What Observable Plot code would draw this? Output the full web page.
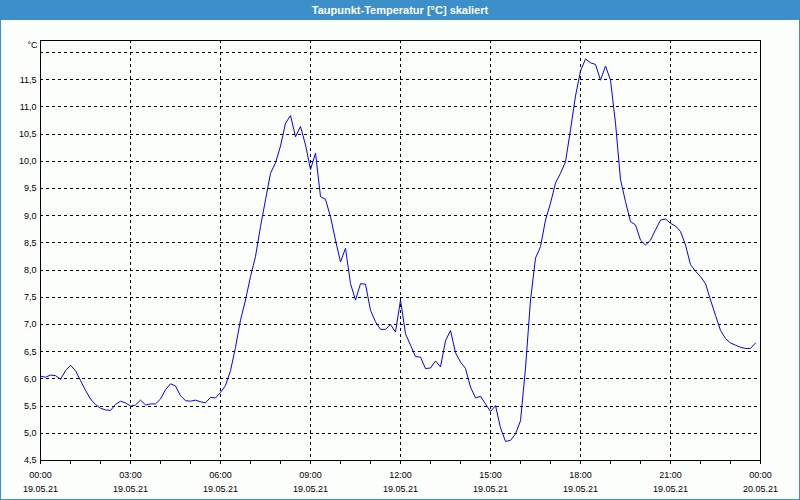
<!DOCTYPE html>
<html>
<head>
<meta charset="utf-8">
<script src="https://cdn.jsdelivr.net/npm/d3@7"></script>
<script src="https://cdn.jsdelivr.net/npm/@observablehq/plot@0.6"></script>
<style>
  html, body { margin: 0; padding: 0; background: #fcfefc; }
  #wrap { position: relative; width: 800px; height: 500px; box-sizing: border-box;
          border: 1px solid #3c8fc8; border-top: none; background: #fcfefc; overflow: hidden; }
  #title { height: 20px; background: #3c8fc8; color: #fff; text-align: center;
           font: bold 11px "Liberation Sans", Arial, sans-serif; line-height: 20px; margin: 0 -1px; }
  #chart svg { display: block; }
</style>
</head>
<body>
<div id="wrap">
  <div id="title">Taupunkt-Temperatur [°C] skaliert</div>
  <div id="chart"></div>
</div>
<script>
// Dew point values, one reading every 10 minutes from 19.05.21 00:00
const dewpoint = [
  6.05, 6.03, 6.07, 6.06, 5.99, 6.15, 6.25, 6.15, 5.97, 5.79,
  5.63, 5.53, 5.46, 5.43, 5.42, 5.53, 5.59, 5.56, 5.50, 5.52,
  5.61, 5.52, 5.54, 5.54, 5.63, 5.80, 5.91, 5.87, 5.69, 5.60,
  5.59, 5.61, 5.58, 5.56, 5.66, 5.65, 5.75, 5.88, 6.15, 6.58,
  7.08, 7.45, 7.88, 8.25, 8.80, 9.29, 9.78, 9.97, 10.28, 10.70,
  10.84, 10.45, 10.64, 10.30, 9.85, 10.15, 9.35, 9.30, 8.98, 8.55,
  8.15, 8.40, 7.75, 7.45, 7.75, 7.74, 7.26, 7.05, 6.91, 6.91,
  7.00, 6.86, 7.45, 6.83, 6.62, 6.41, 6.40, 6.19, 6.20, 6.33,
  6.22, 6.70, 6.89, 6.48, 6.31, 6.19, 5.85, 5.65, 5.68, 5.54,
  5.40, 5.51, 5.10, 4.85, 4.87, 4.99, 5.23, 6.20, 7.45, 8.22,
  8.43, 8.92, 9.23, 9.60, 9.78, 9.99, 10.58, 11.20, 11.66, 11.88,
  11.81, 11.78, 11.49, 11.75, 11.49, 10.70, 9.66, 9.26, 8.89, 8.83,
  8.55, 8.46, 8.55, 8.74, 8.92, 8.94, 8.86, 8.81, 8.71, 8.46,
  8.10, 7.98, 7.88, 7.75, 7.45, 7.17, 6.89, 6.74, 6.66, 6.62,
  6.58, 6.56, 6.56, 6.66
];
const startTime = Date.UTC(2021, 4, 19, 0, 0);
const stepMinutes = 10;

const xTickHours = [0, 3, 6, 9, 12, 15, 18, 21, 24];
const xTimeLabels = ["00:00", "03:00", "06:00", "09:00", "12:00", "15:00", "18:00", "21:00", "00:00"];
const xDateLabels = ["19.05.21", "19.05.21", "19.05.21", "19.05.21", "19.05.21", "19.05.21", "19.05.21", "19.05.21", "20.05.21"];
const xGridHours = [3, 6, 9, 12, 15, 18, 21];
const xMinorHours = d3.range(0, 25);

const yTicks = [4.5, 5.0, 5.5, 6.0, 6.5, 7.0, 7.5, 8.0, 8.5, 9.0, 9.5, 10.0, 10.5, 11.0, 11.5];
const yTickLabels = ["4,5", "5,0", "5,5", "6,0", "6,5", "7,0", "7,5", "8,0", "8,5", "9,0", "9,5", "10,0", "10,5", "11,0", "11,5"];
const yGrid = [4.5, 5.0, 5.5, 6.0, 6.5, 7.0, 7.5, 8.0, 8.5, 9.0, 9.5, 10.0, 10.5, 11.0, 11.5, 12.0];
const yUnit = "°C";

const hour = h => new Date(startTime + h * 3600e3);
const data = dewpoint.map((v, i) => ({ t: new Date(startTime + i * stepMinutes * 60000), v }));
const yLabelMap = new Map(yTicks.map((v, i) => [v, yTickLabels[i]]));
const xTickDates = xTickHours.map(hour);

const chart = Plot.plot({
  width: 798,
  height: 479,
  marginTop: 20,
  marginLeft: 39,
  marginRight: 39,
  marginBottom: 39,
  style: { background: "transparent", fontFamily: "'Liberation Sans', Arial, sans-serif", fontSize: "9px", color: "#000" },
  x: { type: "utc", domain: [hour(0), hour(24)], axis: null },
  y: { domain: [4.5, 12.22], axis: null },
  marks: [
    Plot.ruleY(yGrid, { stroke: "#000", strokeDasharray: "3,3", shapeRendering: "crispEdges" }),
    Plot.ruleX(xGridHours.map(hour), { stroke: "#000", strokeDasharray: "3,3", shapeRendering: "crispEdges" }),
    Plot.line(data, { x: "t", y: "v", stroke: "#0000ff", strokeWidth: 1 }),
    Plot.frame({ stroke: "#000", shapeRendering: "crispEdges" }),
    Plot.axisX(xMinorHours.map(hour), { tickSize: 4, tickFormat: () => "", stroke: "#000", label: null }),
    Plot.axisY(yTicks, { tickSize: 0, tickPadding: 4, tickFormat: d => yLabelMap.get(d), fill: "#000", label: null }),
    Plot.text(xTickDates, { x: d => d, text: (d, i) => xTimeLabels[i], frameAnchor: "bottom", lineAnchor: "top", dy: 11, fill: "#000" }),
    Plot.text(xTickDates, { x: d => d, text: (d, i) => xDateLabels[i], frameAnchor: "bottom", lineAnchor: "top", dy: 25, fill: "#000" }),
    Plot.text([yUnit], { text: d => d, frameAnchor: "top-left", textAnchor: "end", lineAnchor: "top", dx: -3, dy: 1, fill: "#000" })
  ]
});
document.getElementById("chart").appendChild(chart);
</script>
</body>
</html>
